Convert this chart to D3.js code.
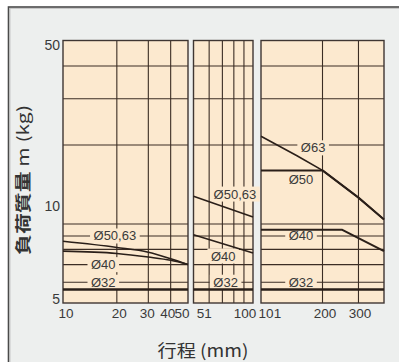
<!DOCTYPE html>
<html><head><meta charset="utf-8">
<script src="https://cdn.jsdelivr.net/npm/d3@7"></script>
<style>body{margin:0;background:#fff;}svg{display:block;}</style>
</head><body><svg id="c" width="399" height="362"></svg>
<script>
// ---- data ----
const panelDomains = [[10, 50], [50, 100], [100, 400]];
const xGrid = [[20, 30, 40], [60, 70, 80, 90], [200, 300]];
const xTickLabels = [[10, 20, 30, 40, 50], [51, 100], [101, 200, 300]];
const yDomain = [5, 50];
const yGrid = [6, 7, 8, 9, 10, 20, 30, 40];
const yTickLabels = [50, 10, 5];

// panel 1 (stroke 10–50)
const p1Stroke = [10, 20, 30, 40, 50];
const p1_5063 = [8.59, 8.14, 7.81, 7.37, 7.01];
const p1_40 = [7.88, 7.72, 7.48, 7.27, 7.01];
const p1_32Stroke = [10, 50];
const p1_32 = [5.63, 5.63];
// panel 2 (stroke 51–100)
const p2Stroke = [50, 100];
const p2_5063 = [12.75, 10.63];
const p2_40 = [9.1, 7.75];
const p2_32 = [5.63, 5.63];
// panel 3 (stroke 101–400)
const p3_63Stroke = [100, 150, 200, 300, 400];
const p3_63 = [21.6, 18.2, 16.0, 12.6, 10.4];
const p3_50Stroke = [100, 200, 300, 400];
const p3_50 = [16.0, 16.0, 12.6, 10.4];
const p3_40Stroke = [100, 250, 400];
const p3_40 = [9.5, 9.5, 7.88];
const p3_32Stroke = [100, 400];
const p3_32 = [5.63, 5.63];

const curveLabels = [
  [{t: "Ø50,63", x: 19.5, y: 9}, {t: "Ø40", x: 16.8, y: 7}, {t: "Ø32", x: 16.8, y: 6}],
  [{t: "Ø50,63", x: 81, y: 13}, {t: "Ø40", x: 70.7, y: 7.55}, {t: "Ø32", x: 72.7, y: 6}],
  [{t: "Ø63", x: 180, y: 19.5}, {t: "Ø50", x: 157, y: 14.8}, {t: "Ø40", x: 157, y: 9}, {t: "Ø32", x: 157, y: 6}]
];

const seriesByPanel = [
  [{x: p1Stroke, y: p1_5063, w: 1.6}, {x: p1Stroke, y: p1_40, w: 1.6}, {x: p1_32Stroke, y: p1_32, w: 2.6}],
  [{x: p2Stroke, y: p2_5063, w: 1.6}, {x: p2Stroke, y: p2_40, w: 1.6}, {x: p2Stroke, y: p2_32, w: 2.6}],
  [{x: p3_63Stroke, y: p3_63, w: 1.6}, {x: p3_50Stroke, y: p3_50, w: 2.0}, {x: p3_40Stroke, y: p3_40, w: 2.0}, {x: p3_32Stroke, y: p3_32, w: 2.6}]
];

// ---- layout ----
const panelRanges = [[63, 188], [193.5, 253], [261, 384]];
const panelCurves = [d3.curveMonotoneX, d3.curveLinear, d3.curveLinear];
const plotTop = 40.5, plotBottom = 303;
const bgCol = "#edefee", plotCol = "#fce9cf", gridCol = "#3b2d24", lineCol = "#2a1f19", textCol = "#3a3a3a";
const xTickDx = [[3, 2.5, -1, -3, -6], [9, -8], [8, 2.5, 1.5]];
const yTickDy = [4.5, -18, -4];

const svg = d3.select("#c");
svg.append("rect").attr("x", 8.5).attr("y", 7).attr("width", 420).attr("height", 420)
  .attr("fill", bgCol).attr("stroke", "#4a4a4a").attr("stroke-width", 1.6);
svg.append("rect").attr("x", 10).attr("y", 8.5).attr("width", 420).attr("height", 420)
  .attr("fill", "none").attr("stroke", "#bdbdbd").attr("stroke-width", 0.8);

const y = d3.scaleLog().domain(yDomain).range([plotBottom, plotTop]);
const xs = panelDomains.map((d, i) => d3.scaleLog().domain(d).range(panelRanges[i]));

const gPlots = svg.append("g");
const gLabelBox = svg.append("g");
const gLines = svg.append("g");
const gText = svg.append("g");

xs.forEach((x, i) => {
  const [x0, x1] = x.range();
  const g = gPlots.append("g");
  g.append("rect").attr("x", x0).attr("y", plotTop).attr("width", x1 - x0).attr("height", plotBottom - plotTop).attr("fill", plotCol);
  g.selectAll(".hg").data(yGrid).join("line")
    .attr("x1", x0).attr("x2", x1).attr("y1", d => y(d)).attr("y2", d => y(d))
    .attr("stroke", gridCol).attr("stroke-width", 1.1);
  g.selectAll(".vg").data(xGrid[i]).join("line")
    .attr("x1", d => x(d)).attr("x2", d => x(d)).attr("y1", plotTop).attr("y2", plotBottom)
    .attr("stroke", gridCol).attr("stroke-width", 1.1);
  g.append("rect").attr("x", x0).attr("y", plotTop).attr("width", x1 - x0).attr("height", plotBottom - plotTop)
    .attr("fill", "none").attr("stroke", "#3f3632").attr("stroke-width", 1.4);

  gText.selectAll(null).data(xTickLabels[i]).join("text")
    .attr("x", (d, j) => x(d) + xTickDx[i][j]).attr("y", 318)
    .attr("text-anchor", "middle").attr("font-family", "Liberation Sans, Arial, sans-serif")
    .attr("font-size", 13.5).attr("fill", textCol).text(d => d);

  const line = d3.line().x(d => x(d[0])).y(d => y(d[1])).curve(panelCurves[i]);
  seriesByPanel[i].forEach(s => {
    gLines.append("path").attr("d", line(s.x.map((v, k) => [v, s.y[k]])))
      .attr("fill", "none").attr("stroke", lineCol).attr("stroke-width", s.w)
      .attr("stroke-linejoin", "round");
  });

  curveLabels[i].forEach(l => {
    const t = gText.append("text").attr("x", x(l.x)).attr("y", y(l.y))
      .attr("text-anchor", "middle").attr("dominant-baseline", "central")
      .attr("font-family", "Liberation Sans, Arial, sans-serif").attr("font-size", 13)
      .attr("fill", textCol).text(l.t);
    const bb = t.node().getBBox();
    gLabelBox.append("rect").attr("x", bb.x - 3.5).attr("y", y(l.y) - 7.5)
      .attr("width", bb.width + 7).attr("height", 15).attr("fill", plotCol);
  });
});

gText.selectAll(".yt").data(yTickLabels).join("text")
  .attr("x", 60).attr("y", (d, j) => y(d) + yTickDy[j])
  .attr("text-anchor", "end").attr("dominant-baseline", "central")
  .attr("font-family", "Liberation Sans, Arial, sans-serif").attr("font-size", 14)
  .attr("fill", textCol).text(d => d);

const yt = svg.append("text").attr("transform", "translate(22,180) rotate(-90)")
  .attr("text-anchor", "middle").attr("dominant-baseline", "central")
  .attr("font-family", "Noto Sans CJK JP, sans-serif").attr("font-size", 16).attr("fill", "#333")
  .attr("textLength", 150).attr("lengthAdjust", "spacingAndGlyphs");
yt.append("tspan").attr("font-weight", "bold").text("負荷質量");
yt.append("tspan").text(" m (kg)");

svg.append("text").attr("x", 203).attr("y", 349)
  .attr("text-anchor", "middle").attr("dominant-baseline", "central")
  .attr("font-family", "Noto Sans CJK JP, sans-serif").attr("font-size", 17).attr("fill", "#333")
  .attr("textLength", 91).attr("lengthAdjust", "spacingAndGlyphs")
  .text("行程 (mm)");
</script></body></html>
